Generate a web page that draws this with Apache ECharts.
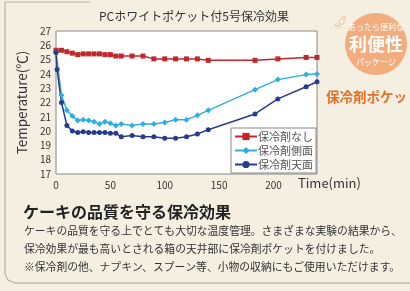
<!DOCTYPE html>
<html>
<head>
<meta charset="utf-8">
<script src="https://cdn.jsdelivr.net/npm/echarts@6/dist/echarts.min.js"></script>
<style>
html, body { margin: 0; padding: 0; background: #f5efe2; }
#main { width: 410px; height: 291px; }
</style>
</head>
<body>
<div id="main"></div>
<script>
// time (min) for the two 5-min series
var times = [0, 5, 10, 15, 20, 25, 30, 35, 40, 45, 50, 55, 60, 70, 80, 90, 100, 110, 120, 130, 140, 183, 204, 230, 240];
var noPack = [25.65, 25.65, 25.55, 25.45, 25.35, 25.4, 25.4, 25.4, 25.4, 25.35, 25.35, 25.25, 25.25, 25.25, 25.25, 25.05, 25.05, 25.05, 25.05, 25.05, 24.95, 24.95, 25.05, 25.15, 25.15];
var sidePack = [25.5, 22.5, 21.45, 21.05, 20.75, 20.8, 20.75, 20.65, 20.5, 20.65, 20.55, 20.4, 20.5, 20.4, 20.5, 20.5, 20.6, 20.8, 20.8, 21.1, 21.45, 22.9, 23.6, 23.95, 24.0];
// top series has one extra early reading
var topTimes = [0, 1, 5, 10, 15, 20, 25, 30, 35, 40, 45, 50, 55, 60, 70, 80, 90, 100, 110, 120, 130, 140, 183, 204, 230, 240];
var topPack = [25.5, 24.3, 22.0, 20.4, 20.0, 19.9, 19.95, 19.9, 19.9, 19.9, 19.9, 19.85, 19.85, 19.6, 19.7, 19.6, 19.6, 19.5, 19.5, 19.6, 19.8, 20.1, 21.2, 22.25, 23.1, 23.45];
var seriesNames = ['保冷剤なし', '保冷剤側面', '保冷剤天面'];

var bodyLines = [
    'ケーキの品質を守る上でとても大切な温度管理。さまざまな実験の結果から、',
    '保冷効果が最も高いとされる箱の天井部に保冷剤ポケットを付けました。',
    '※保冷剤の他、ナプキン、スプーン等、小物の収納にもご使用いただけます。'
];

function pairs(xs, ys) {
    return xs.map(function (x, i) { return [x, ys[i]]; });
}

var font = '"Noto Sans CJK JP", "Noto Sans", sans-serif';

var graphics = [
    // frame
    { type: 'polyline', shape: { points: [[5, 2], [90, 2]] }, style: { stroke: '#b9b3a6', lineWidth: 1, fill: null } },
    { type: 'polyline', shape: { points: [[5, 2], [5, 274], [8, 280], [15, 283], [410, 283]] }, style: { stroke: '#a9a396', lineWidth: 1, fill: null } },
    // badge
    { type: 'circle', shape: { cx: 376, cy: 44, r: 31 }, style: { fill: '#f1ad7d' } },
    { type: 'text', x: 341, y: 22, rotation: Math.PI / 4, style: { text: 'SCP', fill: '#f3b58a', font: '8px ' + font, align: 'center', verticalAlign: 'middle' } },
    { type: 'text', x: 376, y: 27, style: { text: 'あったら便利な', fill: '#fff', font: '8px ' + font, align: 'center', verticalAlign: 'middle' } },
    { type: 'text', x: 376, y: 44, style: { text: '利便性', fill: '#fff', font: 'bold 18px ' + font, align: 'center', verticalAlign: 'middle' } },
    { type: 'text', x: 376, y: 62, style: { text: 'パッケージ', fill: '#fff', font: '8px ' + font, align: 'center', verticalAlign: 'middle' } },
    { type: 'text', x: 326, y: 97, style: { text: '保冷剤ポケット', fill: '#e2702a', font: 'bold 13.5px ' + font, verticalAlign: 'middle' } },
    // x axis name
    { type: 'text', x: 298, y: 183, style: { text: 'Time(min)', fill: '#333', font: '13px ' + font, verticalAlign: 'middle' } },
    // caption
    { type: 'text', x: 23, y: 212, style: { text: 'ケーキの品質を守る保冷効果', fill: '#222', font: 'bold 16px ' + font, verticalAlign: 'middle' } }
];
bodyLines.forEach(function (line, i) {
    graphics.push({ type: 'text', x: 24, y: 231 + i * 18, style: { text: line, fill: '#333', font: '10.8px ' + font, verticalAlign: 'middle' } });
});

var chart = echarts.init(document.getElementById('main'));
chart.setOption({
    backgroundColor: '#f5efe2',
    animation: false,
    textStyle: { fontFamily: font },
    title: {
        text: 'PCホワイトポケット付5号保冷効果',
        left: 94,
        top: 5,
        textStyle: { fontSize: 12, fontWeight: 'normal', color: '#333' }
    },
    legend: {
        data: seriesNames,
        orient: 'vertical',
        left: 231,
        top: 128,
        itemWidth: 22,
        itemHeight: 9,
        itemGap: 3,
        padding: [3, 3, 3, 3],
        backgroundColor: '#fff',
        borderColor: '#888',
        borderWidth: 1,
        borderRadius: 0,
        textStyle: { fontSize: 11, color: '#555', padding: [0, 0, 0, -4] }
    },
    grid: {
        left: 56,
        right: 93,
        top: 31,
        bottom: 117,
        show: true,
        backgroundColor: '#fff',
        borderColor: '#888',
        borderWidth: 1
    },
    xAxis: {
        type: 'value',
        min: 0,
        max: 240,
        interval: 50,
        axisLine: { show: false },
        axisTick: { show: false },
        splitLine: { show: false },
        axisLabel: { fontSize: 10, color: '#333', margin: 6, showMaxLabel: false }
    },
    yAxis: {
        type: 'value',
        min: 17,
        max: 27,
        interval: 1,
        name: 'Temperature(℃)',
        nameLocation: 'middle',
        nameGap: 9,
        nameTextStyle: { fontSize: 13.5, color: '#333' },
        axisLine: { show: false },
        axisTick: { show: false },
        splitLine: { show: false },
        axisLabel: { fontSize: 10, color: '#333', margin: 5 }
    },
    series: [
        {
            name: seriesNames[0],
            type: 'line',
            data: pairs(times, noPack),
            symbol: 'rect',
            symbolSize: 5,
            color: '#c3262c',
            lineStyle: { width: 1.5 }
        },
        {
            name: seriesNames[1],
            type: 'line',
            data: pairs(times, sidePack),
            symbol: 'diamond',
            symbolSize: 6,
            color: '#2eaee2',
            lineStyle: { width: 1.5 }
        },
        {
            name: seriesNames[2],
            type: 'line',
            data: pairs(topTimes, topPack),
            symbol: 'circle',
            symbolSize: 5,
            color: '#283c8e',
            lineStyle: { width: 1.5 }
        }
    ],
    graphic: graphics
});
</script>
</body>
</html>
